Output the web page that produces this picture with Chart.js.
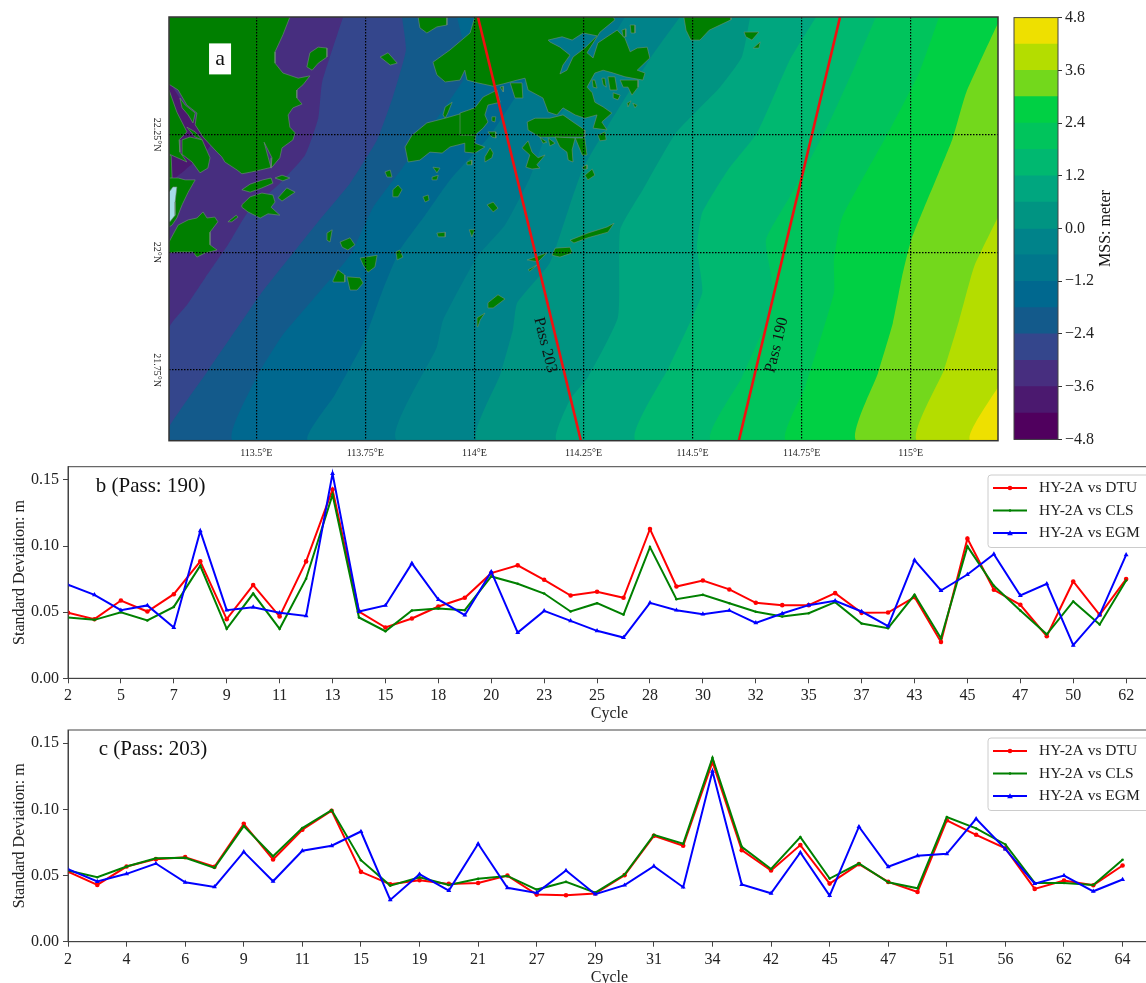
<!DOCTYPE html>
<html>
<head>
<meta charset="utf-8">
<title>MSS map and standard deviation by cycle</title>
<script src="https://cdn.jsdelivr.net/npm/chart.js@4/dist/chart.umd.js"></script>
<style>
    html, body { margin: 0; background: #fff; overflow: hidden; width: 1146px; height: 983px; }
    canvas { position: absolute; }
</style>
</head>
<body>
<canvas id="mapChart" width="875" height="466" style="left:130px;top:5px"></canvas>
<canvas id="colorbarChart" width="141" height="447" style="left:1005px;top:5px"></canvas>
<canvas id="pass190Chart" width="1155" height="276" style="left:0;top:447px"></canvas>
<canvas id="pass203Chart" width="1155" height="277" style="left:0;top:710px"></canvas>
<script>
// panel b, pass 190
const cycles190 = ["2","5","7","9","11","13","15","18","20","23","25","28","30","32","35","37","43","45","47","50","62"];
const dtu190 = [.0495,.0447,.0588,.0505,.0636,.0884,.0447,.0705,.0467,.0884,.1427,.0505,.0384,.0452,.0543,.0609,.0795,.0854,.0745,.0626,.0654,.0609,.1129,.0694,.074,.0672,.0571,.0553,.0553,.0644,.0495,.0497,.0614,.0275,.1056,.0669,.0556,.0318,.0732,.048,.075];
const cls190 = [.046,.0442,.05,.0437,.054,.0851,.0374,.0641,.0374,.0753,.1389,.046,.0356,.0513,.0528,.0515,.077,.0715,.0641,.0505,.0568,.0482,.0992,.0598,.0631,.0568,.0503,.0467,.0492,.0576,.0414,.0379,.0631,.0303,.0997,.07,.0513,.0333,.0581,.0407,.074];
const egm190 = [.0707,.0631,.0515,.0551,.0384,.1114,.0515,.0538,.0495,.0472,.1548,.0505,.0551,.0869,.0596,.0477,.0806,.0346,.051,.0434,.0359,.0308,.0571,.0515,.0485,.0513,.0419,.049,.0553,.0586,.0505,.0394,.0894,.0664,.0785,.0939,.0626,.0715,.025,.048,.0934];

// panel c, pass 203
const cycles203 = ["2","4","6","9","11","15","19","21","27","29","31","34","42","45","47","51","56","62","64"];
const dtu203 = [.053,.0429,.0568,.0624,.0639,.0566,.0891,.0621,.0846,.099,.0528,.0434,.0465,.0437,.0444,.05,.0356,.0351,.0364,.0503,.08,.0725,.1356,.0692,.0538,.073,.0439,.0586,.0452,.0376,.0917,.0808,.0705,.0399,.0462,.0427,.0576];
const cls203 = [.0538,.0487,.0568,.0631,.0634,.0558,.0874,.0646,.0859,.0995,.0616,.0424,.0487,.0429,.0475,.0497,.0394,.0452,.0371,.0508,.0808,.074,.1389,.0717,.055,.079,.0477,.0591,.0449,.0404,.0942,.0856,.0735,.0444,.0444,.0429,.0619];
const egm203 = [.0548,.0455,.0513,.0591,.0449,.0414,.0679,.0457,.0687,.0725,.0833,.0316,.051,.0386,.074,.0407,.0369,.0538,.0359,.0427,.0571,.0412,.1288,.0432,.0366,.0674,.0348,.0869,.0566,.0649,.0664,.0929,.07,.0439,.05,.0381,.047];

const seriesNames = ["HY-2A vs DTU", "HY-2A vs CLS", "HY-2A vs EGM"];
const sdTicks = [0, 0.05, 0.1, 0.15];

// colour bar of panel a
const mssLevels = [-4.8,-4.2,-3.6,-3,-2.4,-1.8,-1.2,-0.6,0,0.6,1.2,1.8,2.4,3,3.6,4.2,4.8];
const mssTicks = [-4.8,-3.6,-2.4,-1.2,0,1.2,2.4,3.6,4.8];
const bandColors = ["#50005e","#4b196f","#472e7f","#34468c","#135a8b","#00688f","#00778c","#00838a","#009482","#00a67f","#00b870","#00c45c","#00d044","#73d81c","#b4dd00","#eee000"];

// map axes of panel a
const lonTicks = [113.5,113.75,114,114.25,114.5,114.75,115];
const lonTickLabels = ["113.5°E","113.75°E","114°E","114.25°E","114.5°E","114.75°E","115°E"];
const latTicks = [21.75,22,22.25];
const latTickLabels = ["21.75°N","22°N","22.25°N"];

// ground track of each pass, lon/lat
const pass203Track = [[114.008,22.5],[114.244,21.6]];
const pass190Track = [[114.838,22.5],[114.606,21.6]];

// MSS contours from -3.6 m up to 4.2 m, lon/lat, each runs north to south
const mssContours = [
    [[113.3,22.5],[113.3,22.366],[113.394,22.228],[113.337,22.175],[113.3,22.143],[113.3,21.6]],
    [[113.699,22.5],[113.651,22.362],[113.642,22.285],[113.612,22.207],[113.55,22.143],[113.481,22.086],[113.435,22.016],[113.383,21.946],[113.341,21.888],[113.3,21.839],[113.3,21.6]],
    [[113.834,22.5],[113.843,22.43],[113.813,22.33],[113.777,22.239],[113.715,22.147],[113.639,22.062],[113.577,21.99],[113.509,21.91],[113.387,21.746],[113.3,21.629],[113.3,21.6]],
    [[113.96,22.5],[113.983,22.409],[113.974,22.366],[113.944,22.324],[113.887,22.249],[113.836,22.181],[113.768,22.096],[113.715,21.994],[113.639,21.91],[113.561,21.825],[113.504,21.74],[113.447,21.6]],
    [[114.196,22.5],[114.104,22.345],[114.036,22.249],[113.944,22.154],[113.887,22.079],[113.829,22.005],[113.79,21.92],[113.745,21.808],[113.68,21.697],[113.619,21.6]],
    [[114.345,22.5],[114.242,22.345],[114.169,22.26],[114.127,22.158],[114.07,22.058],[114.006,21.99],[113.928,21.856],[113.914,21.799],[113.823,21.6]],
    [[114.471,22.5],[114.405,22.415],[114.304,22.266],[114.249,22.179],[114.219,22.101],[114.173,21.978],[114.098,21.893],[114.088,21.835],[114.059,21.74],[114.006,21.6]],
    [[114.632,22.5],[114.613,22.415],[114.563,22.351],[114.462,22.254],[114.386,22.133],[114.334,22.048],[114.329,21.863],[114.26,21.735],[114.219,21.687],[114.189,21.6]],
    [[114.783,22.5],[114.723,22.409],[114.648,22.254],[114.581,22.175],[114.522,22.084],[114.51,22.011],[114.522,21.914],[114.446,21.757],[114.37,21.6]],
    [[114.92,22.5],[114.875,22.402],[114.808,22.266],[114.723,22.118],[114.668,22.026],[114.687,21.899],[114.613,21.735],[114.542,21.6]],
    [[115.065,22.5],[115.019,22.381],[114.943,22.245],[114.843,22.075],[114.824,21.984],[114.824,21.914],[114.758,21.714],[114.714,21.6]],
    [[115.2,22.487],[115.127,22.339],[115.095,22.239],[115.001,22.026],[114.98,21.948],[114.959,21.85],[114.925,21.744],[114.875,21.6]],
    [[115.2,22.075],[115.145,21.969],[115.111,21.856],[115.076,21.75],[115.014,21.6]],
    [[115.2,21.714],[115.136,21.6]]
];

// coastline, lon/lat
const landShapes = [
    [[113.3,22.5],[113.577,22.5],[113.561,22.462],[113.543,22.426],[113.543,22.402],[113.561,22.381],[113.596,22.37],[113.623,22.375],[113.607,22.356],[113.593,22.345],[113.593,22.328],[113.605,22.315],[113.584,22.307],[113.573,22.292],[113.577,22.266],[113.589,22.254],[113.584,22.239],[113.559,22.222],[113.554,22.201],[113.536,22.181],[113.509,22.175],[113.49,22.171],[113.467,22.167],[113.456,22.175],[113.428,22.192],[113.421,22.203],[113.41,22.213],[113.378,22.245],[113.36,22.271],[113.364,22.296],[113.341,22.313],[113.321,22.345],[113.302,22.356],[113.3,22.356]],
    [[113.3,22.345],[113.318,22.298],[113.341,22.256],[113.323,22.239],[113.325,22.213],[113.341,22.192],[113.3,22.209]],
    [[113.325,22.328],[113.337,22.313],[113.36,22.296],[113.355,22.275],[113.344,22.292],[113.33,22.307]],
    [[113.341,22.266],[113.36,22.256],[113.376,22.239],[113.36,22.245]],
    [[113.33,22.239],[113.348,22.245],[113.376,22.239],[113.394,22.201],[113.389,22.179],[113.371,22.169],[113.353,22.192],[113.332,22.207]],
    [[113.3,22.207],[113.305,22.205],[113.307,22.158],[113.3,22.154]],
    [[113.3,22.158],[113.321,22.158],[113.337,22.154],[113.36,22.154],[113.344,22.128],[113.33,22.101],[113.318,22.073],[113.307,22.058],[113.3,22.054]],
    [[113.3,22.022],[113.321,22.058],[113.344,22.069],[113.364,22.073],[113.378,22.086],[113.387,22.073],[113.405,22.075],[113.412,22.065],[113.394,22.043],[113.394,22.016],[113.41,22.005],[113.383,21.999],[113.364,21.99],[113.355,22.001],[113.321,22.001],[113.3,21.999]],
    [[113.467,22.133],[113.486,22.145],[113.515,22.154],[113.534,22.158],[113.538,22.147],[113.513,22.137],[113.486,22.128]],
    [[113.543,22.158],[113.559,22.164],[113.577,22.158],[113.561,22.152]],
    [[113.467,22.101],[113.486,22.118],[113.513,22.126],[113.538,22.122],[113.543,22.107],[113.534,22.096],[113.554,22.079],[113.527,22.082],[113.509,22.073],[113.481,22.086],[113.467,22.096]],
    [[113.55,22.116],[113.57,22.137],[113.589,22.128],[113.573,22.118],[113.559,22.109]],
    [[113.435,22.065],[113.454,22.079],[113.458,22.075],[113.444,22.065]],
    [[113.616,22.394],[113.623,22.424],[113.642,22.436],[113.662,22.434],[113.662,22.415],[113.642,22.402],[113.628,22.387]],
    [[113.784,22.415],[113.802,22.424],[113.823,22.402],[113.807,22.398]],
    [[113.871,22.5],[113.937,22.5],[113.937,22.483],[113.914,22.479],[113.891,22.466],[113.875,22.477]],
    [[113.928,22.292],[113.933,22.309],[113.949,22.319],[113.939,22.296],[113.933,22.285]],
    [[113.841,22.224],[113.857,22.249],[113.891,22.275],[113.933,22.285],[113.974,22.296],[114.001,22.307],[114.004,22.254],[114.001,22.232],[114.024,22.224],[114.001,22.211],[113.978,22.213],[113.978,22.232],[113.944,22.224],[113.926,22.211],[113.898,22.213],[113.875,22.196],[113.848,22.192]],
    [[113.967,22.296],[114.001,22.307],[114.02,22.33],[114.052,22.345],[114.059,22.319],[114.031,22.313],[114.024,22.292],[114.031,22.277],[114.02,22.264],[114.001,22.249],[113.967,22.249]],
    [[114.001,22.5],[113.99,22.466],[113.944,22.43],[113.905,22.404],[113.914,22.377],[113.933,22.362],[113.967,22.366],[113.978,22.387],[113.983,22.366],[114.008,22.36],[114.043,22.353],[114.066,22.358],[114.098,22.366],[114.116,22.37],[114.123,22.345],[114.157,22.328],[114.169,22.298],[114.189,22.292],[114.203,22.307],[114.231,22.292],[114.253,22.285],[114.281,22.292],[114.272,22.264],[114.304,22.26],[114.292,22.277],[114.315,22.296],[114.295,22.309],[114.276,22.319],[114.27,22.339],[114.258,22.351],[114.276,22.381],[114.295,22.387],[114.318,22.381],[114.345,22.373],[114.386,22.366],[114.391,22.381],[114.373,22.387],[114.402,22.413],[114.396,22.436],[114.373,22.434],[114.357,22.426],[114.345,22.455],[114.327,22.472],[114.304,22.458],[114.283,22.445],[114.272,22.413],[114.258,22.424],[114.288,22.468],[114.322,22.494],[114.318,22.5]],
    [[114.357,22.483],[114.368,22.483],[114.368,22.466],[114.359,22.466]],
    [[114.338,22.472],[114.347,22.475],[114.347,22.458],[114.341,22.458]],
    [[114.306,22.373],[114.322,22.373],[114.327,22.345],[114.311,22.345]],
    [[114.318,22.339],[114.334,22.334],[114.329,22.324],[114.318,22.328]],
    [[114.334,22.366],[114.375,22.366],[114.375,22.351],[114.361,22.334],[114.352,22.351],[114.341,22.351]],
    [[114.292,22.37],[114.299,22.37],[114.302,22.351],[114.295,22.356]],
    [[114.27,22.366],[114.276,22.366],[114.281,22.349],[114.272,22.351]],
    [[114.35,22.317],[114.359,22.322],[114.352,22.309]],
    [[114.363,22.317],[114.373,22.313],[114.368,22.307]],
    [[114.121,22.277],[114.139,22.285],[114.173,22.285],[114.203,22.292],[114.226,22.277],[114.253,22.26],[114.253,22.245],[114.15,22.245],[114.123,22.26]],
    [[114.15,22.245],[114.166,22.234],[114.157,22.232]],
    [[114.169,22.243],[114.185,22.232],[114.173,22.226]],
    [[114.185,22.245],[114.231,22.243],[114.224,22.218],[114.226,22.192],[114.215,22.196],[114.212,22.213],[114.196,22.224]],
    [[114.231,22.243],[114.253,22.243],[114.258,22.207],[114.247,22.207]],
    [[114.109,22.222],[114.123,22.237],[114.132,22.213],[114.146,22.201],[114.162,22.207],[114.143,22.186],[114.15,22.179],[114.132,22.177],[114.118,22.181],[114.127,22.207]],
    [[114.253,22.164],[114.27,22.177],[114.276,22.164],[114.26,22.154]],
    [[114.247,22.181],[114.258,22.186],[114.258,22.177],[114.249,22.177]],
    [[114.283,22.249],[114.299,22.256],[114.302,22.239],[114.288,22.237]],
    [[114.024,22.203],[114.036,22.222],[114.043,22.211],[114.04,22.201],[114.024,22.192]],
    [[113.983,22.192],[113.994,22.196],[113.994,22.186],[113.985,22.186]],
    [[114.031,22.256],[114.049,22.256],[114.049,22.243],[114.04,22.245]],
    [[114.04,22.288],[114.049,22.288],[114.047,22.277],[114.04,22.279]],
    [[114.082,22.36],[114.109,22.36],[114.111,22.328],[114.093,22.328]],
    [[114.059,22.351],[114.066,22.353],[114.066,22.341]],
    [[113.795,22.171],[113.807,22.175],[113.811,22.16],[113.8,22.16]],
    [[113.905,22.181],[113.921,22.179],[113.914,22.169]],
    [[113.903,22.16],[113.917,22.164],[113.914,22.154],[113.903,22.154]],
    [[113.813,22.133],[113.825,22.143],[113.834,22.133],[113.825,22.118],[113.813,22.118]],
    [[113.882,22.118],[113.894,22.122],[113.896,22.111],[113.887,22.107]],
    [[114.029,22.101],[114.043,22.107],[114.054,22.094],[114.043,22.086]],
    [[113.914,22.041],[113.933,22.043],[113.933,22.033],[113.917,22.033]],
    [[113.988,22.048],[114.001,22.048],[113.994,22.033]],
    [[113.662,22.041],[113.674,22.048],[113.669,22.022],[113.662,22.026]],
    [[113.692,22.022],[113.715,22.031],[113.726,22.016],[113.71,22.005],[113.697,22.011]],
    [[113.738,21.988],[113.777,21.994],[113.772,21.969],[113.756,21.958],[113.745,21.973]],
    [[113.82,22.001],[113.829,22.005],[113.836,21.99],[113.823,21.984]],
    [[113.676,21.941],[113.687,21.963],[113.703,21.952],[113.703,21.937],[113.676,21.937]],
    [[113.708,21.948],[113.738,21.946],[113.745,21.935],[113.731,21.92],[113.715,21.92]],
    [[114.031,21.893],[114.054,21.91],[114.07,21.901],[114.043,21.882],[114.031,21.882]],
    [[114.006,21.861],[114.024,21.871],[114.013,21.856],[114.008,21.842]],
    [[114.121,21.984],[114.166,21.999],[114.146,21.98]],
    [[114.123,21.963],[114.143,21.973],[114.127,21.96]],
    [[114.178,21.994],[114.185,22.009],[114.219,22.011],[114.224,21.999],[114.196,21.99]],
    [[114.219,22.026],[114.26,22.041],[114.304,22.054],[114.32,22.062],[114.306,22.043],[114.26,22.031],[114.228,22.02]],
    [[114.48,22.5],[114.588,22.5],[114.588,22.494],[114.538,22.472],[114.517,22.451],[114.496,22.451],[114.485,22.472]],
    [[114.618,22.468],[114.652,22.468],[114.636,22.451],[114.622,22.458]],
    [[114.639,22.434],[114.655,22.447],[114.652,22.434]]
];

// water cut into the land, lon/lat
const bayShapes = [
    { color: "#472e7f", shape: [[113.518,22.234],[113.536,22.201],[113.534,22.179],[113.527,22.203]] },
    { color: "#00778c", shape: [[114.169,22.451],[114.201,22.458],[114.224,22.451],[114.249,22.466],[114.281,22.46],[114.253,22.434],[114.226,22.415],[114.212,22.387],[114.196,22.379],[114.203,22.398],[114.219,22.419],[114.196,22.436],[114.173,22.447]] },
    { color: "#a5dce8", shape: [[113.3,22.128],[113.309,22.139],[113.318,22.139],[113.314,22.107],[113.314,22.079],[113.302,22.065],[113.3,22.065]] }
];

const serif = '"Liberation Serif", "Times New Roman", serif';
Chart.defaults.font.family = serif;
Chart.defaults.color = "#222";
Chart.defaults.animation = false;
Chart.defaults.events = [];
Chart.defaults.plugins.legend.display = false;
Chart.defaults.plugins.tooltip.enabled = false;

function drawMarker(ctx, style, x, y, r) {
    ctx.beginPath();
    if (style === "triangle") {
        ctx.moveTo(x, y - r);
        ctx.lineTo(x + r, y + r * 0.8);
        ctx.lineTo(x - r, y + r * 0.8);
        ctx.closePath();
    } else {
        ctx.arc(x, y, r, 0, Math.PI * 2);
    }
    ctx.fill();
}

// frame, labels and the matplotlib style legend box
const panelDecor = {
    id: "panelDecor",
    afterDraw(chart, args, opts) {
        const ctx = chart.ctx;
        const area = chart.chartArea;
        ctx.save();
        ctx.strokeStyle = opts.frameColor;
        ctx.lineWidth = opts.frameWidth;
        ctx.strokeRect(area.left, area.top, area.right - area.left, area.bottom - area.top);

        (opts.labels || []).forEach(item => {
            const x = item.dx !== undefined ? area.right + item.dx : chart.scales.x.getPixelForValue(item.x);
            const y = chart.scales.y.getPixelForValue(item.y);
            ctx.save();
            ctx.translate(x, y);
            ctx.rotate((item.angle || 0) * Math.PI / 180);
            if (item.box) {
                ctx.fillStyle = "#fff";
                ctx.fillRect(-item.box[0] / 2, -item.box[1] / 2, item.box[0], item.box[1]);
            }
            ctx.fillStyle = "#111";
            ctx.font = item.size + "px " + serif;
            ctx.textAlign = item.align || "center";
            ctx.textBaseline = "middle";
            ctx.fillText(item.text, 0, 0);
            ctx.restore();
        });

        if (opts.legendTop !== undefined) {
            const top = opts.legendTop;
            ctx.fillStyle = "rgba(255,255,255,0.85)";
            ctx.strokeStyle = "#ccc";
            ctx.lineWidth = 1;
            ctx.beginPath();
            ctx.roundRect(988, top, 170, 72.5, 3);
            ctx.fill();
            ctx.stroke();
            [13, 35.5, 58].forEach((rowY, i) => {
                const ds = chart.data.datasets[i];
                ctx.strokeStyle = ds.borderColor;
                ctx.fillStyle = ds.borderColor;
                ctx.lineWidth = ds.borderWidth;
                ctx.beginPath();
                ctx.moveTo(993, top + rowY);
                ctx.lineTo(1027, top + rowY);
                ctx.stroke();
                drawMarker(ctx, ds.pointStyle, 1010, top + rowY, ds.pointRadius);
                ctx.fillStyle = "#222";
                ctx.font = "15.5px " + serif;
                ctx.textAlign = "left";
                ctx.textBaseline = "middle";
                ctx.fillText(ds.label, 1039, top + rowY);
            });
        }
        ctx.restore();
    }
};
Chart.register(panelDecor);

function closeRing(shape) {
    return shape.concat([shape[0]]).map(p => ({ x: p[0], y: p[1] }));
}

function shapeLayer(points, color, edge) {
    return {
        data: points,
        showLine: true,
        fill: "shape",
        backgroundColor: color,
        borderColor: edge || color,
        borderWidth: edge ? 0.6 : 0,
        pointRadius: 0
    };
}

function renderMap() {
    const layers = [];
    const lonMin = 113.3, lonMax = 115.2, latMin = 21.6, latMax = 22.5;
    layers.push(shapeLayer(closeRing([[lonMin, latMax], [lonMax, latMax], [lonMax, latMin], [lonMin, latMin]]), bandColors[1]));
    mssContours.forEach((line, i) => {
        // paint everything east of the contour, the corners sit off the map so the curve stays clean
        const ring = closeRing(line.concat([[lonMax + 1, latMin - 1], [lonMax + 1, latMax + 1]]));
        const layer = shapeLayer(ring, bandColors[i + 2]);
        layer.tension = 0.15;
        layer.capBezierPoints = false;
        layers.push(layer);
    });
    landShapes.forEach(shape => layers.push(shapeLayer(closeRing(shape), "#007f00", "#6f8f78")));
    bayShapes.forEach(b => layers.push(shapeLayer(closeRing(b.shape), b.color, "#6f8f78")));
    [pass203Track, pass190Track].forEach(track => {
        layers.push({
            data: track.map(p => ({ x: p[0], y: p[1] })),
            showLine: true,
            borderColor: "#f01010",
            borderWidth: 2.6,
            pointRadius: 0
        });
    });

    return new Chart(document.getElementById("mapChart"), {
        type: "scatter",
        // chart.js paints the first dataset last
        data: { datasets: layers.reverse() },
        options: {
            responsive: false,
            layout: { padding: { top: 12, right: 7 } },
            scales: {
                x: {
                    type: "linear",
                    min: lonMin,
                    max: lonMax,
                    afterFit: s => { s.height = 30.3; },
                    afterBuildTicks: s => { s.ticks = lonTicks.map(v => ({ value: v })); },
                    grid: { z: 1, color: "#000", lineWidth: 1.2, drawTicks: false },
                    border: { display: false, dash: [1.5, 1.5] },
                    ticks: { font: { size: 10 }, padding: 7, maxRotation: 0, autoSkip: false, callback: (v, i) => lonTickLabels[i] }
                },
                y: {
                    type: "linear",
                    min: latMin,
                    max: latMax,
                    afterFit: s => { s.width = 39; },
                    afterBuildTicks: s => { s.ticks = latTicks.map(v => ({ value: v })); },
                    grid: { z: 1, color: "#000", lineWidth: 1.2, drawTicks: false },
                    border: { display: false, dash: [1.5, 1.5] },
                    ticks: { font: { size: 10 }, padding: -4, minRotation: -90, crossAlign: "center", autoSkip: false, callback: (v, i) => latTickLabels[i] }
                }
            },
            plugins: {
                panelDecor: {
                    frameColor: "#333",
                    frameWidth: 1.5,
                    labels: [
                        { text: "a", x: 113.417, y: 22.411, size: 22, box: [22, 31] },
                        { text: "Pass 203", x: 114.162, y: 21.803, size: 16, angle: 76 },
                        { text: "Pass 190", x: 114.693, y: 21.803, size: 16, angle: -76 }
                    ]
                }
            }
        }
    });
}

function renderColorbar() {
    // each bar starts at the bottom of the scale, the lower bands are painted over it
    const bands = bandColors.map((color, i) => ({
        data: [[mssLevels[0], mssLevels[i + 1]]],
        backgroundColor: color,
        borderWidth: 0,
        barPercentage: 1,
        categoryPercentage: 1,
        grouped: false
    }));

    return new Chart(document.getElementById("colorbarChart"), {
        type: "bar",
        data: { labels: ["MSS"], datasets: bands },
        options: {
            responsive: false,
            layout: { padding: { top: 12, left: 9, bottom: 6.3 } },
            scales: {
                x: { display: false },
                y: {
                    position: "right",
                    min: -4.8,
                    max: 4.8,
                    afterFit: s => { s.width = 88; },
                    afterBuildTicks: s => { s.ticks = mssTicks.map(v => ({ value: v })); },
                    grid: { drawOnChartArea: false, tickLength: 4, tickColor: "#333" },
                    border: { display: false },
                    ticks: { font: { size: 16 }, padding: 3, callback: v => v.toFixed(1).replace("-", "\u2212") }
                }
            },
            plugins: {
                panelDecor: {
                    frameColor: "#444",
                    frameWidth: 1,
                    labels: [{ text: "MSS: meter", dx: 48, y: 0, size: 16, angle: -90 }]
                }
            }
        }
    });
}

function renderSeriesChart(canvasId, tickLabels, dtu, cls, egm, xMax, panelLabel, topPad, axisHeight, legendTop) {
    const toPoints = values => values.map((v, i) => ({ x: i, y: v }));
    const line = (label, values, color, style, radius, order) => ({
        label: label,
        data: toPoints(values),
        showLine: true,
        borderColor: color,
        backgroundColor: color,
        borderWidth: 2,
        pointStyle: style,
        pointRadius: radius,
        pointBorderWidth: 0,
        order: order
    });

    return new Chart(document.getElementById(canvasId), {
        type: "scatter",
        data: {
            datasets: [
                line(seriesNames[0], dtu, "#ff0000", "circle", 2.3, 3),
                line(seriesNames[1], cls, "#008000", "circle", 1.3, 2),
                line(seriesNames[2], egm, "#0000ff", "triangle", 2.8, 1)
            ]
        },
        options: {
            responsive: false,
            layout: { padding: { top: topPad } },
            scales: {
                x: {
                    type: "linear",
                    min: 0,
                    max: xMax,
                    afterFit: s => { s.height = axisHeight; },
                    afterBuildTicks: s => { s.ticks = tickLabels.map((t, i) => ({ value: i * 2 })); },
                    grid: { drawOnChartArea: false, tickLength: 5, tickColor: "#444" },
                    border: { color: "#444", width: 1 },
                    ticks: { font: { size: 16 }, padding: 3, maxRotation: 0, autoSkip: false, callback: (v, i) => tickLabels[i] },
                    title: { display: true, text: "Cycle", font: { size: 16 }, padding: 0 }
                },
                y: {
                    min: 0,
                    max: 0.16,
                    afterFit: s => { s.width = 68; },
                    afterBuildTicks: s => { s.ticks = sdTicks.map(v => ({ value: v })); },
                    grid: { drawOnChartArea: false, tickLength: 5, tickColor: "#444" },
                    border: { color: "#444", width: 1 },
                    ticks: { font: { size: 16 }, padding: 4, callback: v => v.toFixed(2) },
                    title: { display: true, text: "Standard Deviation: m", font: { size: 16 }, padding: { top: 10, bottom: 0 } }
                }
            },
            plugins: {
                panelDecor: {
                    frameColor: "#444",
                    frameWidth: 1,
                    legendTop: legendTop,
                    labels: [{ text: panelLabel, x: 1.05, y: 0.145, size: 21, align: "left" }]
                }
            }
        }
    });
}

renderMap();
renderColorbar();
renderSeriesChart("pass190Chart", cycles190, dtu190, cls190, egm190, 40.94, "b (Pass: 190)", 19.7, 44.7, 28);
renderSeriesChart("pass203Chart", cycles203, dtu203, cls203, egm203, 36.97, "c (Pass: 203)", 20, 45.3, 28);
</script>
</body>
</html>
